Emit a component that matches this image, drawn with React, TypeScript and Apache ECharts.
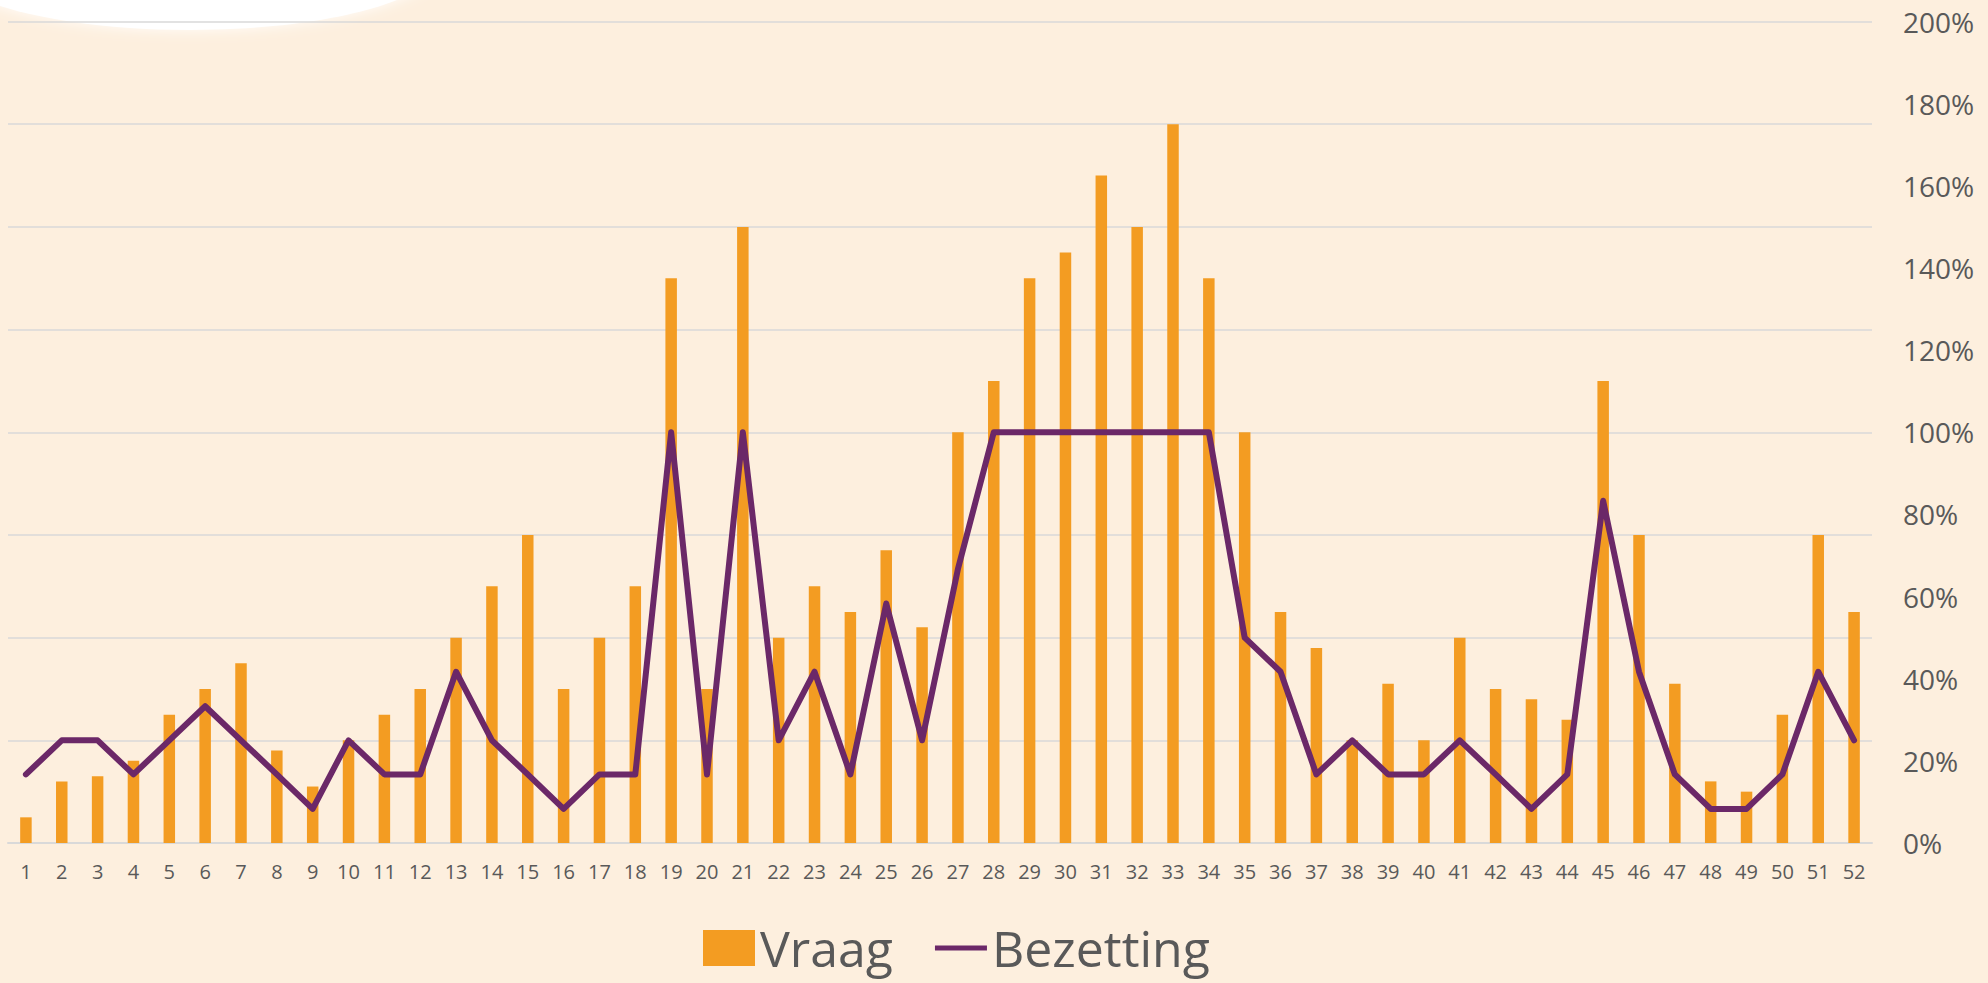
import React, { useEffect, useRef } from "react";
import * as echarts from "echarts";

const weeks: string[] = Array.from({ length: 52 }, (_, i) => String(i + 1));

// Vraag (demand) on hidden left axis, units 0..8
const vraag: number[] = [
  0.25, 0.6, 0.65, 0.8, 1.25, 1.5, 1.75, 0.9, 0.55, 1.0,
  1.25, 1.5, 2.0, 2.5, 3.0, 1.5, 2.0, 2.5, 5.5, 1.5,
  6.0, 2.0, 2.5, 2.25, 2.85, 2.1, 4.0, 4.5, 5.5, 5.75,
  6.5, 6.0, 7.0, 5.5, 4.0, 2.25, 1.9, 1.0, 1.55, 1.0,
  2.0, 1.5, 1.4, 1.2, 4.5, 3.0, 1.55, 0.6, 0.5, 1.25,
  3.0, 2.25,
];

// Bezetting (occupancy) in percent, right axis
const bezetting: number[] = [
  16.7, 25, 25, 16.7, 25, 33.3, 25, 16.7, 8.3, 25,
  16.7, 16.7, 41.7, 25, 16.7, 8.3, 16.7, 16.7, 100, 16.7,
  100, 25, 41.7, 16.7, 58.3, 25, 66.7, 100, 100, 100,
  100, 100, 100, 100, 50, 41.7, 16.7, 25, 16.7, 16.7,
  25, 16.7, 8.3, 16.7, 83.3, 41.7, 16.7, 8.3, 8.3, 16.7,
  41.7, 25,
];

const FONT = "'Open Sans', 'Noto Sans', sans-serif";
const GREY = "#595959";

export default function App() {
  const ref = useRef<HTMLDivElement>(null);
  useEffect(() => {
    if (!ref.current) return;
    const chart = echarts.init(ref.current, undefined, { renderer: "svg" });
    chart.setOption({
      animation: false,
      backgroundColor: "#FDEFDE",
      textStyle: { fontFamily: FONT },
      graphic: [
        {
          type: "ellipse",
          z: -100,
          shape: { cx: 190, cy: -42, rx: 255, ry: 72 },
          style: { fill: "#FFFFFF", shadowBlur: 14, shadowColor: "rgba(255,255,255,0.9)" },
        },
      ],
      grid: { left: 8, right: 116, top: 21.5, bottom: 140, containLabel: false },
      legend: {
        left: 698,
        top: 918,
        itemWidth: 52,
        itemHeight: 36,
        itemGap: 42,
        symbolKeepAspect: true,
        textStyle: { fontSize: 50, color: GREY, fontFamily: FONT, lineHeight: 50 },
        data: [
          { name: "Vraag", icon: "rect" },
          { name: "Bezetting", icon: "path://M0,0 L10,0 L10,1 L0,1 Z" },
        ],
      },
      xAxis: {
        type: "category",
        data: weeks,
        boundaryGap: true,
        axisTick: { show: false },
        axisLine: { show: true, lineStyle: { color: "#D9D9D9", width: 2 } },
        axisLabel: { color: GREY, fontSize: 20, margin: 18, interval: 0, fontFamily: FONT },
      },
      yAxis: [
        {
          type: "value",
          min: 0,
          max: 8,
          interval: 1,
          axisLabel: { show: false },
          axisLine: { show: false },
          axisTick: { show: false },
          splitLine: { show: true, lineStyle: { color: "#D9D9D9", width: 1.5 } },
        },
        {
          type: "value",
          position: "right",
          min: 0,
          max: 200,
          interval: 20,
          axisLabel: {
            formatter: "{value}%",
            color: GREY,
            fontSize: 28,
            margin: 31,
            fontFamily: FONT,
          },
          axisLine: { show: false },
          axisTick: { show: false },
          splitLine: { show: false },
        },
      ],
      series: [
        {
          name: "Vraag",
          type: "bar",
          yAxisIndex: 0,
          data: vraag,
          barWidth: 11.5,
          itemStyle: { color: "#F39C22" },
        },
        {
          name: "Bezetting",
          type: "line",
          yAxisIndex: 1,
          data: bezetting,
          symbol: "none",
          lineStyle: { color: "#6B2868", width: 6, join: "round", cap: "round" },
          itemStyle: { color: "#6B2868" },
        },
      ],
    });
    return () => chart.dispose();
  }, []);
  return (
    <div
      ref={ref}
      style={{ position: "absolute", left: 0, top: 0, width: 1988, height: 983 }}
    />
  );
}
